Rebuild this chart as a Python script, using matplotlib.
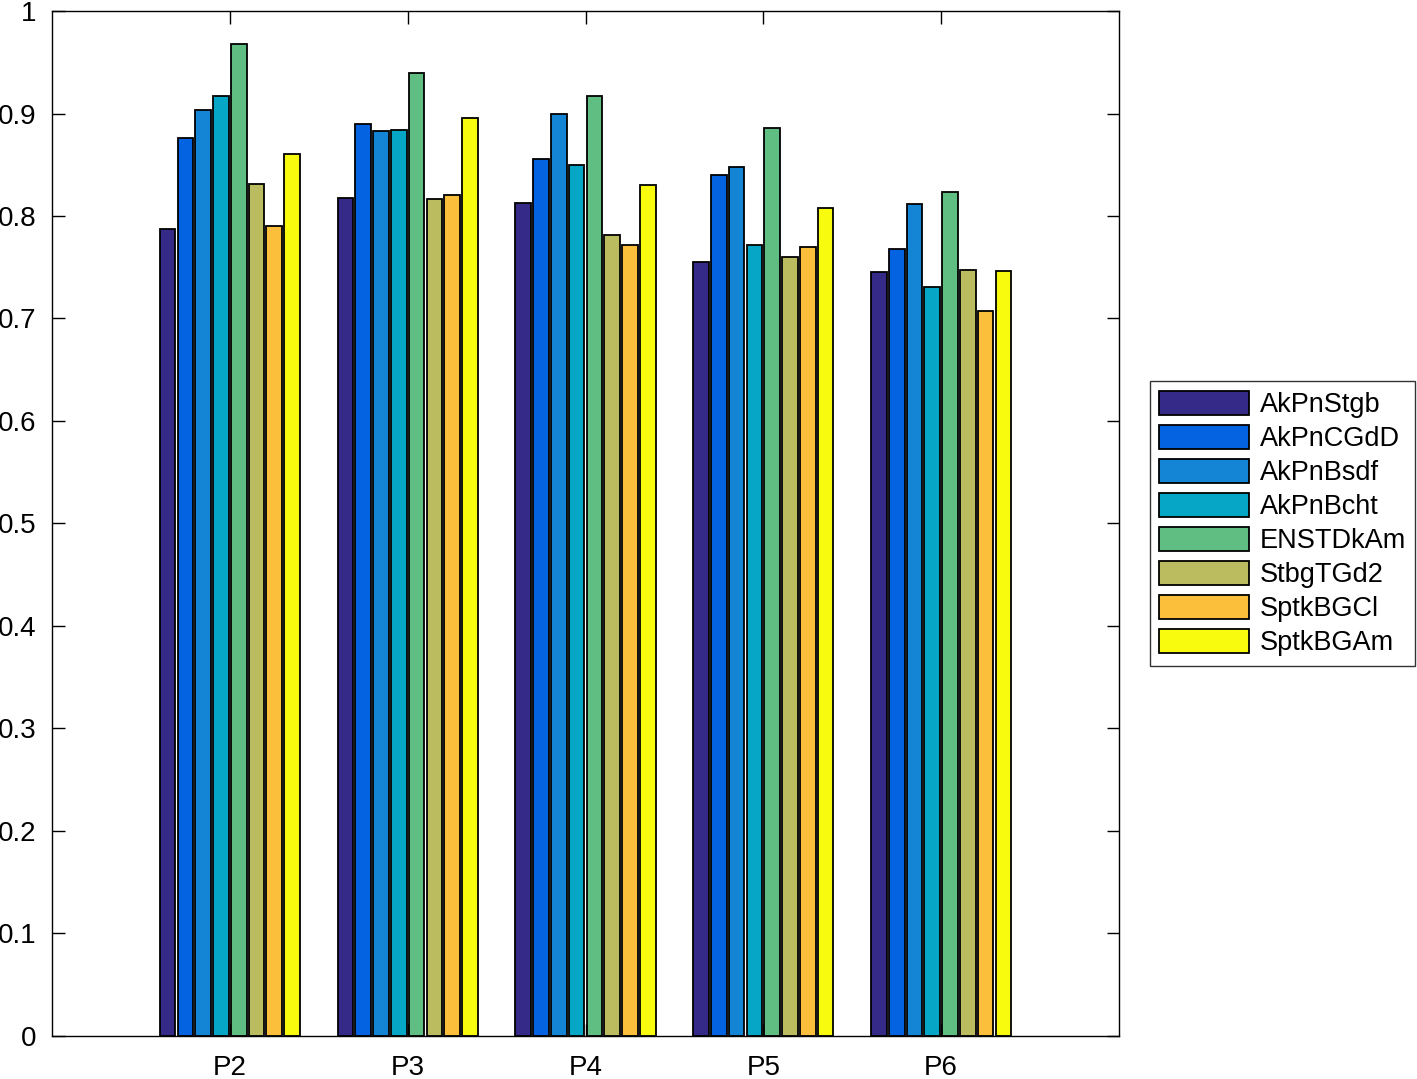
import numpy as np
import matplotlib.pyplot as plt

plt.rcParams['font.family'] = ['Liberation Sans', 'DejaVu Sans']

# groups on the x axis
groups = ["P2", "P3", "P4", "P5", "P6"]

# one list per dataset
AkPnStgb = [0.787, 0.818, 0.813, 0.755, 0.745]
AkPnCGdD = [0.876, 0.890, 0.856, 0.840, 0.768]
AkPnBsdf = [0.903, 0.883, 0.900, 0.848, 0.812]
AkPnBcht = [0.917, 0.884, 0.850, 0.772, 0.731]
ENSTDkAm = [0.968, 0.940, 0.917, 0.886, 0.823]
StbgTGd2 = [0.831, 0.817, 0.781, 0.760, 0.747]
SptkBGCl = [0.790, 0.820, 0.772, 0.770, 0.707]
SptkBGAm = [0.860, 0.896, 0.830, 0.808, 0.746]

names = ["AkPnStgb", "AkPnCGdD", "AkPnBsdf", "AkPnBcht",
         "ENSTDkAm", "StbgTGd2", "SptkBGCl", "SptkBGAm"]
series = [AkPnStgb, AkPnCGdD, AkPnBsdf, AkPnBcht,
          ENSTDkAm, StbgTGd2, SptkBGCl, SptkBGAm]
colors = ["#352a87", "#0363e1", "#1485d4", "#06a7c6",
          "#60be82", "#bbbc5f", "#fcbf3c", "#f9fb0e"]

fig = plt.figure(figsize=(14.17, 10.79), dpi=100)
ax = fig.add_axes([0.0367, 0.0399, 0.7530, 0.9499])

x = np.arange(1, len(groups) + 1)
step = 0.1
width = 0.088
for i, (vals, name, col) in enumerate(zip(series, names, colors)):
    ax.bar(x + (i - 3.5) * step, vals, width, color=col,
           edgecolor="black", linewidth=1.3, label=name)

ax.set_xlim(0, 6)
ax.set_ylim(0, 1)
ax.set_xticks(x)
ax.set_xticklabels(groups)
ax.set_yticks(np.arange(0, 1.01, 0.1))
ax.set_yticklabels(["0", "0.1", "0.2", "0.3", "0.4", "0.5",
                    "0.6", "0.7", "0.8", "0.9", "1"])
ax.tick_params(direction="in", length=9, width=1, top=True, right=True,
               labelsize=20)
ax.tick_params(axis="y", pad=11)
ax.tick_params(axis="x", pad=14)
for s in ax.spines.values():
    s.set_linewidth(1)

leg = ax.legend(loc="center left", bbox_to_anchor=(1.029, 0.5),
                fontsize=19.5, frameon=True, fancybox=False,
                edgecolor="black", handlelength=3.3, handleheight=0.98,
                handletextpad=0.4, labelspacing=0.25, borderpad=0.35,
                borderaxespad=0)
leg.get_frame().set_linewidth(1)

fig.savefig("out.png", dpi=100)
